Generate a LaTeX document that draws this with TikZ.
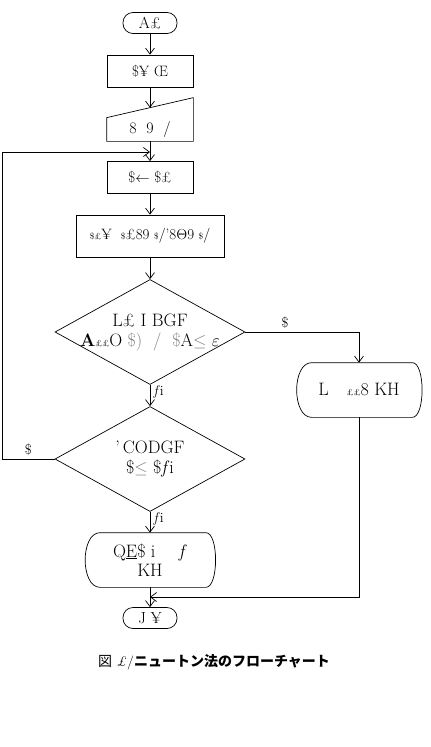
\documentclass[tikz,border=0pt]{standalone}
\usepackage{fontspec}
\newfontfamily\cjk{Noto Sans CJK JP}
\usetikzlibrary{shapes.geometric,arrows.meta}

% outline of the display boxes, drawn round a named node
\newcommand{\dispoutline}[1]{%
  \draw ([xshift=14pt]#1.north west) -- ([xshift=-8pt]#1.north east)
    .. controls ([xshift=5pt]#1.north east) and ([xshift=5pt]#1.south east) .. ([xshift=-8pt]#1.south east)
    -- ([xshift=14pt]#1.south west)
    .. controls ([xshift=-6pt]#1.south west) and ([xshift=-6pt]#1.north west) .. cycle;}

\begin{document}
\begin{tikzpicture}[x=1pt,y=-1pt,line width=0.7pt,
    >={Straight Barb[length=6pt,width=9pt]},
    term/.style={draw,rounded corners=10pt,minimum width=54pt,minimum height=21pt,inner sep=0pt,font=\fontsize{16}{18}\selectfont},
    proc/.style={draw,minimum width=86pt,minimum height=32pt,inner sep=0pt,font=\fontsize{15}{17}\selectfont},
    cond/.style={draw,diamond,minimum width=190pt,minimum height=105pt,inner sep=0pt,
      label={[align=center,font=\fontsize{18}{20}\selectfont]center:#1}},
    disp/.style={minimum width=#1,minimum height=54pt,inner sep=0pt,align=center,font=\fontsize{18}{19}\selectfont},
    lbl/.style={font=\fontsize{14}{16}\selectfont}]
  \useasboundingbox (0,0) rectangle (431,747);

  \node[term] (start) at (150,23) {A£};
  \node[proc] (init) at (150,71) {\$¥ Œ};
  % manual input
  \node[minimum width=86pt,minimum height=43pt,inner sep=0pt] (inp) at (150,119.5) {};
  \draw (inp.south west) -- (inp.south east) -- (inp.north east)
    -- coordinate[pos=0.5] (inptop) ([yshift=-20pt]inp.north west) -- cycle;
  \node[font=\fontsize{16}{18}\selectfont] (inptxt) at (150,129) {8\ \ 9\ \ /};
  \node[proc] (upd) at (150,177.5) {\$$\leftarrow$ \$£};
  \node[proc,minimum width=148pt,minimum height=42pt] (newt) at (150,236)
    {{\small\$£}¥\ \ {\small\$}£89 {\small\$}/'8$\Theta$9 {\small\$}/};
  \node[cond={L£ I BGF\\{\bfseries A}{\small££}O \textcolor{gray}{\$)\ \ /\ \ \$}A\textcolor{gray}{$\leq$}\ $\varepsilon$}] (chk1) at (150,332) {};
  \node[cond={'\,CODGF\\\$\textcolor{gray}{$\leq$} \$\textit{f}i}] (chk2) at (150,459) {};
  \node[disp=122pt] (res1) at (359,390) {L\quad{\small££}8 KH};
  \dispoutline{res1}
  \node[disp=127pt] (res2) at (150,560) {Q\underline{E}\$ i\quad\ \textit{f}\\KH};
  \dispoutline{res2}
  \node[term] (stop) at (150,618) {J ¥};
  \coordinate (loopin) at (150,152);
  \coordinate (loopleft) at (2,459);
  \coordinate (merge) at (150,597);

  \draw[->] (start) -- (init);
  \draw[->] (init) -- (inptop);
  \draw[->] (inp.south) -- (upd);
  \draw[->] (upd) -- (newt);
  \draw[->] (newt) -- (chk1);
  \draw[->] (chk1.east) -- node[above,lbl,pos=0.35] {\$} (chk1.east -| res1.north) -- (res1.north);
  \draw[->] (chk1) -- node[right,lbl,pos=0.35] {\textit{f}i} (chk2);
  \draw[->] (chk2.west) -- node[above,lbl] {\$} (loopleft) |- (loopin);
  \draw[->] (chk2) -- node[right,lbl,pos=0.35] {\textit{f}i} (res2);
  \draw[->] (res2) -- (stop);
  \draw[->] (res1.south) |- (merge);

  \node[font=\fontsize{14}{16}\selectfont] (cap) at (214,662)
    {{\cjk 図} \textit{£}/{\cjk\bfseries ニュートン法のフローチャート}};
\end{tikzpicture}
\end{document}
